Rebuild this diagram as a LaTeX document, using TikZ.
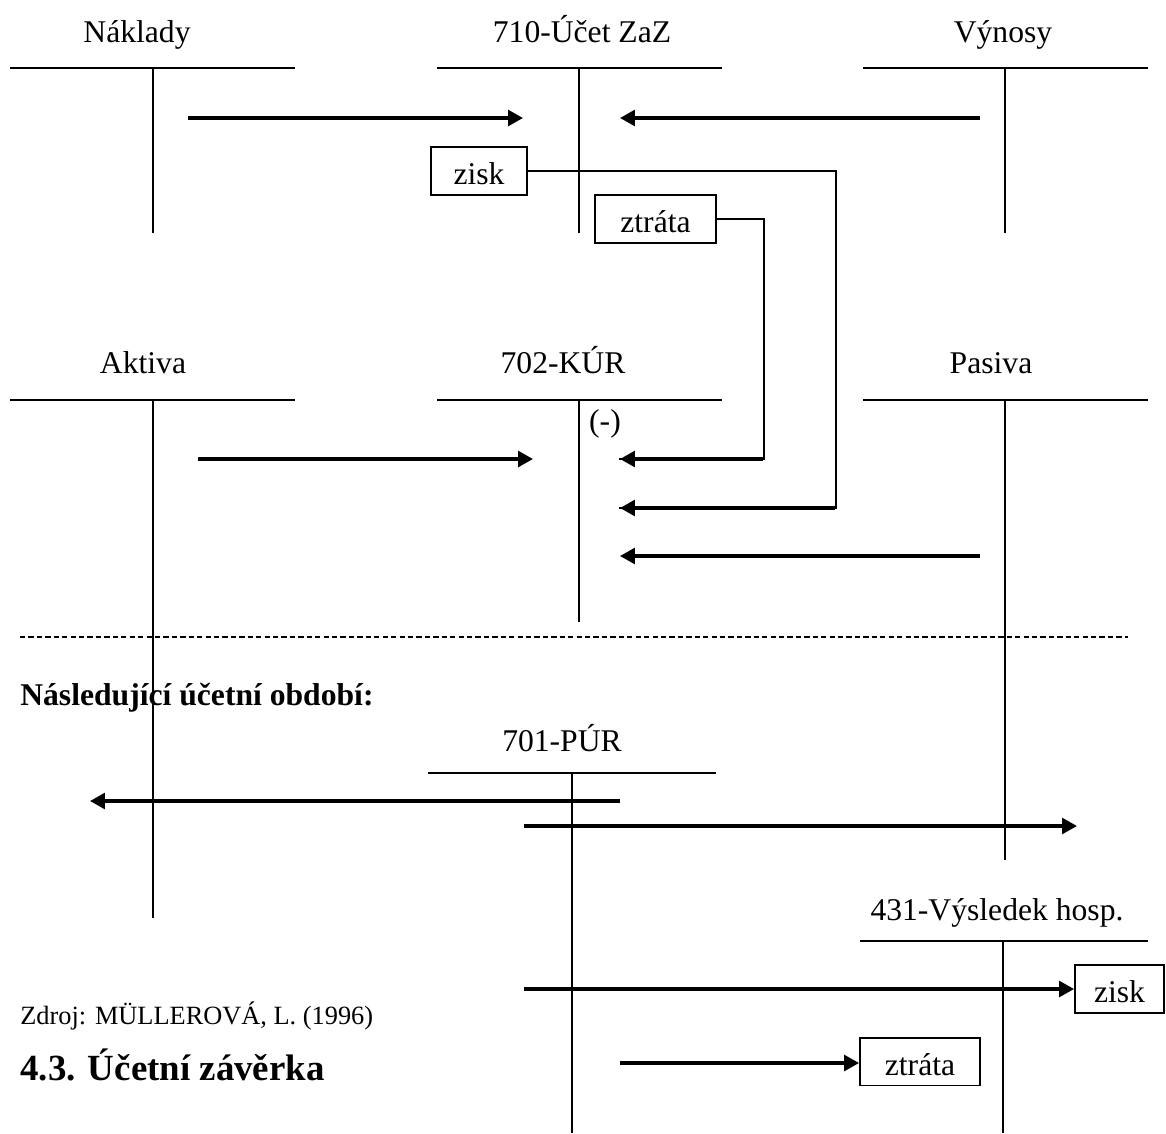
\documentclass[tikz,border=0pt]{standalone}
\usepackage{fontspec}
\setmainfont{Liberation Serif}
\usetikzlibrary{arrows.meta,positioning}

\begin{document}
\begin{tikzpicture}[
  x=0.02cm, y=-0.02cm,
  >={Triangle[length=8.5pt,width=9pt]},
  tline/.style={line width=1.5pt},
  arr/.style={->, line width=1.8pt},
  link/.style={line width=1.2pt, line cap=rect},
  acct/.style={anchor=base, inner sep=0pt,
    font=\fontsize{18}{21}\selectfont},
  kbox/.style={draw, line width=1.1pt, inner sep=0pt,
    minimum height=27.3pt, text height=21.6pt, text depth=5.7pt,
    font=\fontsize{18}{21}\selectfont},
]
\useasboundingbox (0,0) rectangle (1166,1133);

% ── top row: closing of costs and revenues ─────────────────────────────────
\node[acct] (nakl) at (137,42)  {Náklady};
\node[acct] (zaz)  at (582,42)  {710-Účet ZaZ};
\node[acct] (vyn)  at (1003,42) {Výnosy};

\draw[tline] (10,68)  -- (295,68);   \draw[tline] (153,68)  -- (153,233);
\draw[tline] (437,68) -- (722,68);   \draw[tline] (579,68)  -- (579,233);
\draw[tline] (863,68) -- (1148,68);  \draw[tline] (1005,68) -- (1005,233);

\node[kbox, minimum width=1.92cm] (zisk1)   at (479,171)   {zisk};
\node[kbox, minimum width=2.42cm] (ztrata1) at (655.5,219) {ztráta};

% ── middle row: closing balance account ────────────────────────────────────
\node[acct] (akt) at (143,373) {Aktiva};
\node[acct] (kur) at (563,373) {702-KÚR};
\node[acct] (pas) at (991,373) {Pasiva};
\node[acct] (minus) at (605,431) {(-)};

\draw[tline] (10,400)  -- (295,400);   \draw[tline] (153,400)  -- (153,918);
\draw[tline] (437,400) -- (722,400);   \draw[tline] (579,400)  -- (579,622);
\draw[tline] (863,400) -- (1148,400);  \draw[tline] (1005,400) -- (1005,860);

% ── split between the periods ──────────────────────────────────────────────
\draw[line width=0.6pt, dash pattern=on 3pt off 1.8pt] (20,637) -- (1128,637);
\node[anchor=base west, inner sep=0pt, font=\fontsize{18}{21}\selectfont\bfseries]
  (next) at (20,705) {Následující účetní období:};

% ── bottom: opening balance account and result ─────────────────────────────
\node[acct] (pur) at (562,751)  {701-PÚR};
\node[acct] (vh)  at (997,920)  {431-Výsledek hosp.};

\draw[tline] (428,773) -- (716,773);   \draw[tline] (572,773)  -- (572,1133);
\draw[tline] (860,941) -- (1148,941);  \draw[tline] (1003,941) -- (1003,1133);

\node[kbox, minimum width=1.78cm] (zisk2)   at (1119.5,989) {zisk};
\node[kbox, minimum width=2.40cm] (ztrata2) at (920,1061.5) {ztráta};

\node[anchor=base west, inner sep=0pt, font=\fontsize{15}{18}\selectfont]
  (zdroj) at (20,1024) {Zdroj: MÜLLEROVÁ, L. (1996)};
\node[anchor=base west, inner sep=0pt, font=\fontsize{21}{25}\selectfont\bfseries]
  (head) at (20,1080) {4.3. Účetní závěrka};

% ── arrow ends ─────────────────────────────────────────────────────────────
\coordinate (nakl-out) at (188,118);
\coordinate (zaz-in1)  at (523,118);
\coordinate (vyn-out)  at (980,118);
\coordinate (zaz-in2)  at (620,118);
\coordinate (akt-out)  at (198,459);
\coordinate (kur-in1)  at (533,459);
\coordinate (kur-in2)  at (620,459);
\coordinate (kur-in3)  at (620,508);
\coordinate (kur-in4)  at (620,556);
\coordinate (pas-out)  at (980,556);
\coordinate (pur-out1) at (620,801);
\coordinate (akt-in)   at (90,801);
\coordinate (pur-out2) at (524,826);
\coordinate (pas-in)   at (1077,826);
\coordinate (pur-out3) at (524,989);
\coordinate (pur-out4) at (620,1063);

% ── arrows ─────────────────────────────────────────────────────────────────
\draw[arr] (nakl-out) -- (zaz-in1);
\draw[arr] (vyn-out)  -- (zaz-in2);
\draw[arr] (akt-out)  -- (kur-in1);
\draw[arr] (pas-out)  -- (kur-in4);

% profit and loss carried over to 702
\draw[link] (ztrata1.east) -- ++(47,0) |- (kur-in2);
\draw[arr]  (kur-in2 -| 763,0) -- (kur-in2);
\draw[link] (zisk1.east) -- ++(308,0) |- (kur-in3);
\draw[arr]  (kur-in3 -| 835,0) -- (kur-in3);

% opening of the next period
\draw[arr] (pur-out1) -- (akt-in);
\draw[arr] (pur-out2) -- (pas-in);
\draw[arr] (pur-out3) -- (zisk2.west);
\draw[arr] (pur-out4) -- (pur-out4 -| ztrata2.west);
\end{tikzpicture}
\end{document}
